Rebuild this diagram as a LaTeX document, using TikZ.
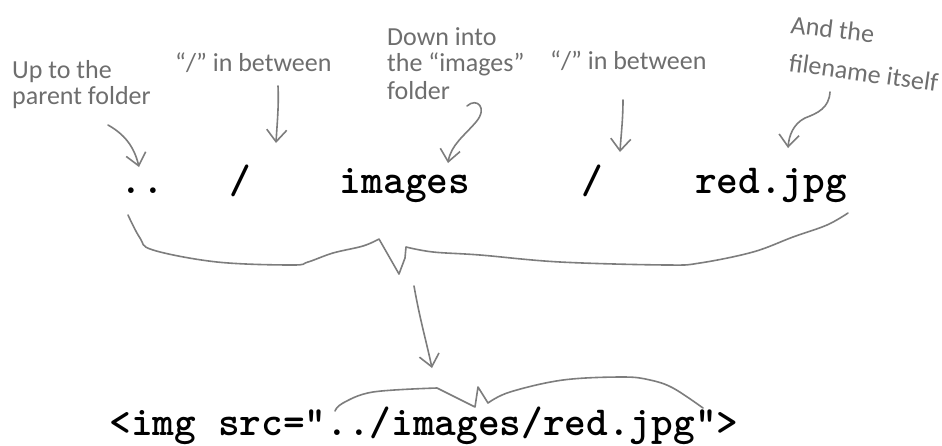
\documentclass[tikz,border=0pt]{standalone}
\usepackage{fontspec}
\newfontfamily\handfont{Carlito}
\usetikzlibrary{arrows.meta}
\definecolor{handgray}{RGB}{110,110,110}
\definecolor{linegray}{RGB}{125,125,125}
\begin{document}
\begin{tikzpicture}[x=1pt,y=-1pt,
  code/.style={font=\ttfamily\bfseries\fontsize{41.3}{41.3}\selectfont, inner sep=0pt, anchor=base, text=black},
  hand/.style={font=\handfont\fontsize{26}{26}\selectfont, inner sep=0pt, anchor=base west, text=handgray},
  pen/.style={draw=linegray, line width=1.6pt, line cap=round, line join=round},
  arr/.style={pen, -{Straight Barb[length=12pt,width=20pt]}}]
\fill[white] (0,0) rectangle (942,445);
\useasboundingbox (0,0) rectangle (942,445);

% code row
\node[code] (dots) at (142,193) {..};
\node[code] (sl1) at (240,193) {/};
\node[code] (img) at (405,193) {images};
\node[code] (sl2) at (592,193) {/};
\node[code] (red) at (771,193) {red.jpg};
\node[code] (tag) at (424,435) {<img src="../images/red.jpg">};

% annotations
\node[hand] (up1) at (12,78) {Up to the};
\node[hand] (up2) at (12,104) {parent folder};
\node[hand] (btw1) at (175,71) {“/” in between};
\node[hand] (down1) at (387,45) {Down into};
\node[hand] (down2) at (387,71) {the “images”};
\node[hand] (down3) at (387,99) {folder};
\node[hand] (btw2) at (550,69) {“/” in between};
\node[hand,rotate=-7] (and1) at (790,33) {And the};
\node[hand,rotate=-8] (and2) at (788,71) {filename itself};

% arrow end points
\coordinate (a1s) at (108,125); \coordinate (a1e) at (139,167);
\coordinate (a2s) at (278,86);  \coordinate (a2e) at (276,143);
\coordinate (a3s) at (467,106); \coordinate (a3e) at (448,163);
\coordinate (a4s) at (623,100); \coordinate (a4e) at (620,152);
\coordinate (a5s) at (830,92);  \coordinate (a5e) at (788,148);
\coordinate (a6s) at (414,286); \coordinate (a6e) at (432,368);

\draw[arr] (a1s) .. controls (124,134) and (134,146) .. (a1e);
\draw[arr] (a2s) .. controls (279,105) and (277,125) .. (a2e);
\draw[arr] (a3s) .. controls (477,97) and (488,108) .. (476,122)
               .. controls (464,136) and (451,145) .. (a3e);
\draw[arr] (a4s) .. controls (623,120) and (621,135) .. (a4e);
\draw[arr] (a5s) .. controls (829,108) and (818,113) .. (805,118)
               .. controls (793,124) and (789,136) .. (a5e);
\draw[arr] (a6s) .. controls (420,320) and (426,340) .. (a6e);

% top brace
\draw[pen] plot[smooth,tension=0.6] coordinates {(128,215) (140,238) (153,250) (217,262) (292,265) (308,262) (333,253) (363,246) (379,239)}
  -- (399,274) -- (405,258)
  -- plot[smooth,tension=0.6] coordinates {(406,247) (433,252) (480,255) (560,262) (667,265) (700,263) (753,252) (793,237) (827,225) (848,213)};

% bottom brace
\draw[pen] plot[smooth,tension=0.6] coordinates {(335,411) (343,403) (373,392) (437,388)}
  -- (475,407) -- (478,387)
  -- plot[smooth,tension=0.6] coordinates {(488,403) (510,392) (563,380) (623,377) (650,380) (673,388) (703,408)};
\end{tikzpicture}
\end{document}
